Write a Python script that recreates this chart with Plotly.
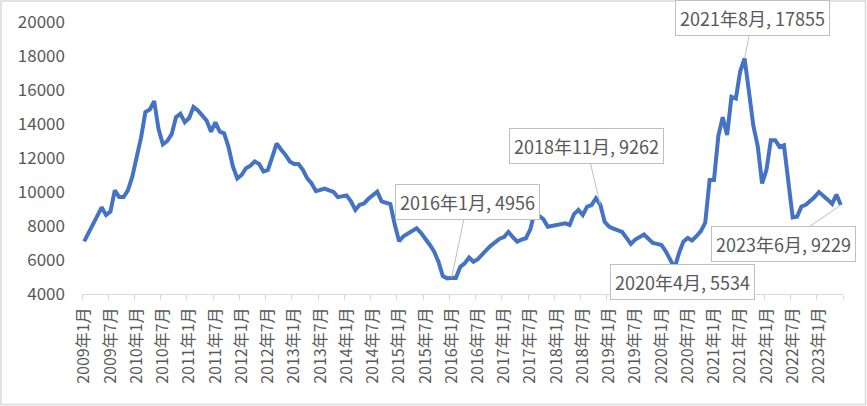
import plotly.graph_objects as go

years = list(range(2009, 2024))
months = [f"{y}年{m}月" for y in years for m in range(1, 13)][:174]

prices_2009 = [7100, 7600, 8100, 8700, 9100, 8650, 8850, 10100, 9700, 9700, 10100, 10900]
prices_2010 = [12100, 13200, 14700, 14850, 15350, 13700, 12800, 13000, 13400, 14400, 14600, 14100]
prices_2011 = [14350, 15000, 14800, 14500, 14200, 13550, 14100, 13550, 13450, 12650, 11500, 10800]
prices_2012 = [11000, 11400, 11550, 11800, 11650, 11200, 11300, 12050, 12850, 12500, 12200, 11800]
prices_2013 = [11650, 11650, 11300, 10800, 10500, 10050, 10150, 10200, 10100, 10000, 9700, 9750]
prices_2014 = [9800, 9450, 8950, 9250, 9330, 9600, 9850, 10020, 9450, 9350, 9290, 8100]
prices_2015 = [7100, 7400, 7570, 7760, 7860, 7600, 7280, 6900, 6500, 5900, 5050, 4920]
prices_2016 = [4956, 4950, 5600, 5800, 6150, 5900, 6050, 6350, 6600, 6850, 7050, 7250]
prices_2017 = [7350, 7650, 7350, 7080, 7200, 7280, 7800, 8840, 8600, 8400, 7960, 8000]
prices_2018 = [8060, 8100, 8160, 8060, 8700, 8950, 8650, 9140, 9230, 9630, 9262, 8250]
prices_2019 = [7960, 7850, 7780, 7650, 7300, 6950, 7200, 7350, 7500, 7250, 7000, 6950]
prices_2020 = [6880, 6500, 6000, 5534, 6400, 7080, 7300, 7150, 7400, 7700, 8200, 10700]
prices_2021 = [10700, 13300, 14400, 13350, 15600, 15500, 17100, 17855, 15900, 13900, 12700, 10500]
prices_2022 = [11300, 13050, 13050, 12650, 12750, 10600, 8500, 8550, 9150, 9250, 9450, 9700]
prices_2023 = [10000, 9800, 9550, 9300, 9850, 9229]

prices = (prices_2009 + prices_2010 + prices_2011 + prices_2012 + prices_2013 +
          prices_2014 + prices_2015 + prices_2016 + prices_2017 + prices_2018 +
          prices_2019 + prices_2020 + prices_2021 + prices_2022 + prices_2023)

y_ticks = [4000, 6000, 8000, 10000, 12000, 14000, 16000, 18000, 20000]

# labelled points: (category, value, box offset x, box offset y)
callouts = [
    ("2016年1月", 4956, 16, -76),
    ("2018年11月", 9262, -14, -59),
    ("2021年8月", 17855, 8, -40),
    ("2020年4月", 5534, 8, 14),
    ("2023年6月", 9229, -57, 39),
]

FONT = "Noto Sans CJK SC, Noto Sans, sans-serif"
TXT = "#595959"

fig = go.Figure()
fig.add_trace(go.Scatter(
    x=months, y=prices, mode="lines",
    line=dict(color="#4472C4", width=4),
    hoverinfo="x+y", showlegend=False,
))

for cat, val, ax, ay in callouts:
    fig.add_annotation(
        x=cat, y=val, xref="x", yref="y",
        text=f"{cat}, {val}",
        showarrow=True, arrowhead=0, arrowwidth=1, arrowcolor="#bfbfbf",
        ax=ax, ay=ay, axref="pixel", ayref="pixel",
        font=dict(family=FONT, size=18, color=TXT),
        bgcolor="white", bordercolor="#bfbfbf", borderwidth=1, borderpad=4,
    )

L, R, T, B, W, H = 82, 24, 22, 112, 867, 406
pw, ph = W - L - R, H - T - B
fig.add_shape(
    type="rect", xref="paper", yref="paper",
    x0=(1 - L) / pw, x1=(W - 1.5 - L) / pw,
    y0=(H - B - (H - 1.5)) / ph, y1=(H - B - 1) / ph,
    line=dict(color="#d9d9d9", width=1.5), fillcolor="rgba(0,0,0,0)", layer="below",
)

fig.update_layout(
    width=W, height=H,
    margin=dict(l=L, r=R, t=T, b=B),
    paper_bgcolor="white", plot_bgcolor="white",
    font=dict(family=FONT, color=TXT),
    xaxis=dict(
        type="category", range=[-0.5, len(months) - 0.5],
        tickmode="linear", tick0=0, dtick=6, tickson="boundaries",
        tickangle=-90, tickfont=dict(size=16, color=TXT, family=FONT),
        showline=True, linecolor="#d9d9d9", linewidth=1,
        ticks="outside", ticklen=5, tickcolor="#d9d9d9",
        ticklabelstandoff=6,
        showgrid=False, zeroline=False, automargin=False,
    ),
    yaxis=dict(
        range=[4000, 20000], tickmode="array", tickvals=y_ticks,
        ticktext=[str(v) for v in y_ticks],
        tickfont=dict(size=17, color=TXT, family=FONT),
        showline=False, showgrid=False, zeroline=False,
        ticklabelstandoff=16, automargin=False,
    ),
)

fig.write_html(
    "out.html",
    config={"displayModeBar": False},
    post_script="document.body.style.margin='0';document.body.style.padding='0';",
)
